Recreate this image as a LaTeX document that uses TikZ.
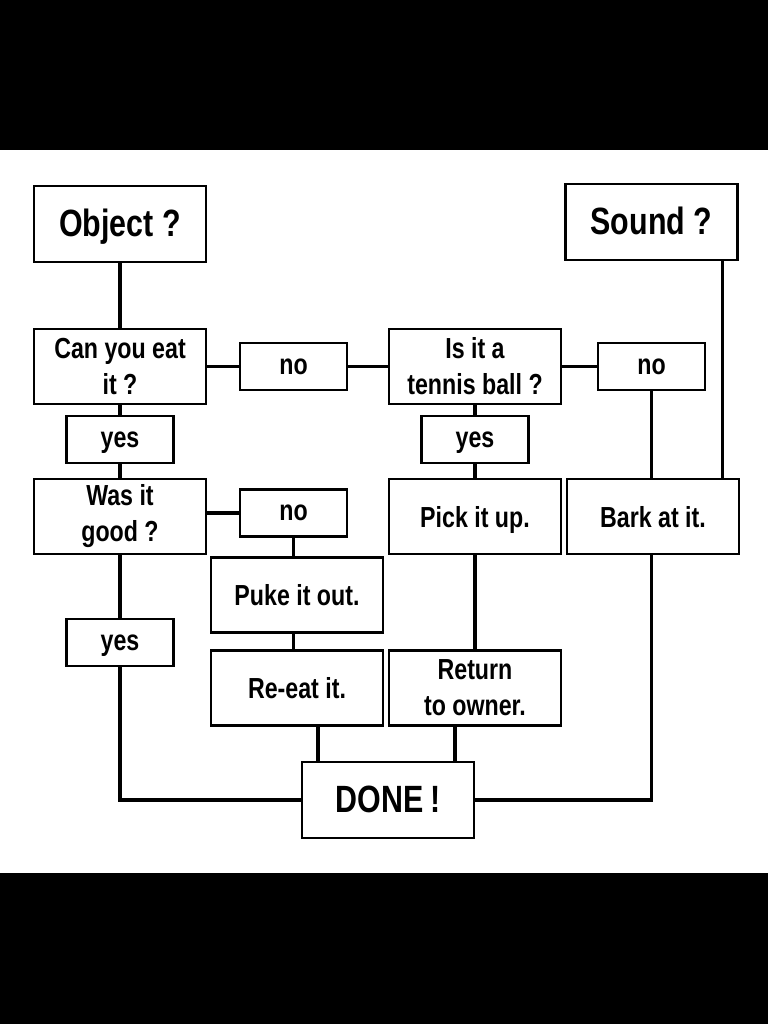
\documentclass[tikz,border=0pt]{standalone}
\usepackage{fontspec}
\setmainfont{Liberation Sans}[FakeStretch=0.8]
\usetikzlibrary {positioning}

\begin{document}
\begin{tikzpicture}
	[x=0.5pt,y=-0.5pt,node distance=17pt,
	question/.style={rectangle,draw,align=center,line width=1.1pt,inner sep=0pt,outer sep=0pt,minimum width=86pt,minimum height=37.5pt,font=\bfseries\fontsize{14.5}{18}\selectfont},
	oneline/.style={text height=10.5pt,text depth=0pt},
	topic/.style={rectangle,draw,line width=1.1pt,inner sep=0pt,outer sep=0pt,minimum width=86pt,minimum height=38pt,text height=13.7pt,text depth=1.5pt,font=\bfseries\fontsize{19}{23}\selectfont},
	answer/.style={rectangle,draw,line width=1.1pt,inner sep=0pt,outer sep=0pt,minimum width=53.5pt,minimum height=23.5pt,text height=7.5pt,text depth=0pt,font=\bfseries\fontsize{14.5}{18}\selectfont},
	link/.style={line width=1.7pt}]
	\fill[black] (0,0) rectangle (768,150);
	\fill[black] (0,873) rectangle (768,1024);
	\useasboundingbox (0,0) rectangle (768,1024);
	\node[topic] (object) at (120,224) {Object ?};
	\node[question] (eat) [below=33.5pt of object] {Can you eat\\it ?};
	\node[answer] (no1) [right=17pt of eat] {no};
	\node[question] (ball) [right=21pt of no1] {Is it a\\tennis ball ?};
	\node[answer] (no2) [right=18.5pt of ball] {no};
	\node[topic] (sound) [above=41.5pt of no2] {Sound ?};
	\node[answer] (yes1) [below=6pt of eat] {yes};
	\node[question] (good) [below=8pt of yes1] {Was it\\good ?};
	\node[answer] (yes2) [below=6pt of ball] {yes};
	\node[question,oneline] (pick) [below=8pt of yes2] {Pick it up.};
	\node[question,oneline] (bark) [right=3pt of pick] {Bark at it.};
	\node[answer] (no3) [right=17pt of good,yshift=1.75pt] {no};
	\node[question,oneline] (puke) [below=10.5pt of no3,xshift=1.75pt] {Puke it out.};
	\node[question,oneline] (reeat) [below=9pt of puke] {Re-eat it.};
	\node[question] (owner) [right=3pt of reeat] {Return\\to owner.};
	\node[answer] (yes3) [below=32.5pt of good] {yes};
	\node[topic] (done) at (388,800) {DONE\,!};
	\draw [link] (object) -- (eat);
	\draw [link] (eat.east) -- (no1.west);
	\draw [link] (no1.east) -- (ball.west);
	\draw [link] (ball.east) -- (no2.west);
	\draw [link] (eat) -- (yes1);
	\draw [link] (yes1) -- (good);
	\draw [link] (ball) -- (yes2);
	\draw [link] (yes2) -- (pick);
	\draw [link] (no3.west) -- (no3.west -| good.east);
	\draw [link] (no3.south) -- (no3.south |- puke.north);
	\draw [link] (puke.south -| no3.south) -- (reeat.north -| no3.south);
	\draw [link] (pick) -- (owner);
	\draw [link] (no2.south) -- (no2.south |- bark.north);
	\draw [link] ([xshift=-7.5pt]sound.south east) -- ([xshift=-7.5pt]sound.south east |- bark.north);
	\draw [link] (good) -- (yes3);
	\draw [link] (yes3.south) |- (done.west);
	\draw [link] ([xshift=10.5pt]reeat.south) -- ([xshift=10.5pt]reeat.south |- done.north);
	\draw [link] ([xshift=-10pt]owner.south) -- ([xshift=-10pt]owner.south |- done.north);
	\draw [link] (bark.south -| no2.south) |- (done.east);
	\end{tikzpicture}
\end{document}
